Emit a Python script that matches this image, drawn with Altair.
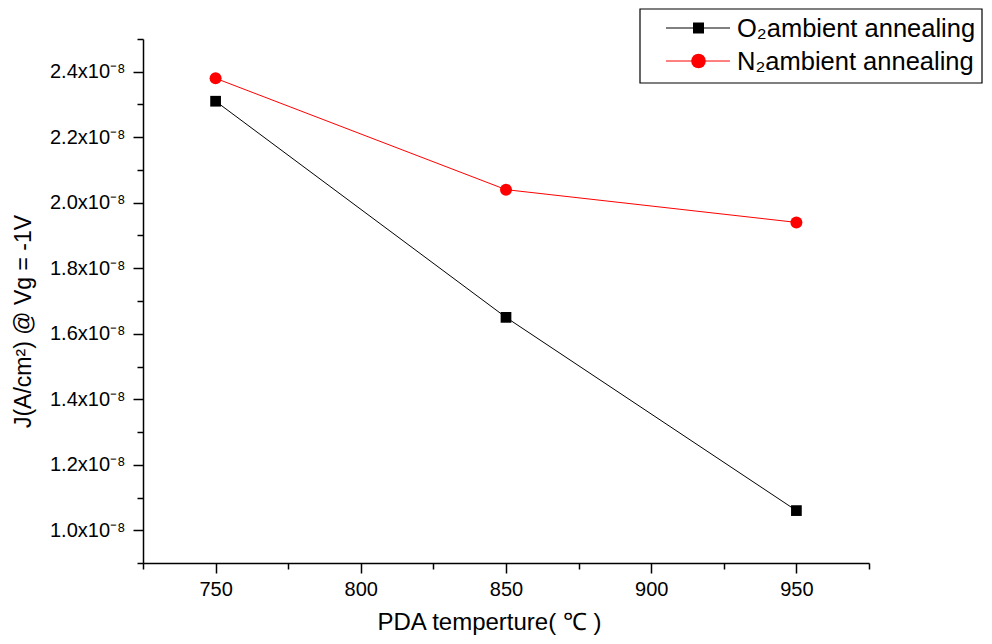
import altair as alt
import pandas as pd

# ---- data ----
temps = [750, 850, 950]
o2_j = [2.31e-8, 1.65e-8, 1.06e-8]
n2_j = [2.38e-8, 2.04e-8, 1.94e-8]
series_labels = ["O\u2082ambient annealing", "N\u2082ambient annealing"]
series_colors = ["#000000", "#ff0000"]
series_shapes = ["square", "circle"]

x_domain = [725, 975]
y_domain = [0.9e-8, 2.5e-8]
x_tick_values = [725, 750, 775, 800, 825, 850, 875, 900, 925, 950, 975]
y_tick_values = [0.9e-8, 1.0e-8, 1.1e-8, 1.2e-8, 1.3e-8, 1.4e-8, 1.5e-8, 1.6e-8,
                 1.7e-8, 1.8e-8, 1.9e-8, 2.0e-8, 2.1e-8, 2.2e-8, 2.3e-8, 2.4e-8, 2.5e-8]

x_title = "PDA temperture( \u2103 )"
y_title = "J(A/cm\u00b2) @ Vg = -1V"

rows = []
for t, v in zip(temps, o2_j):
    rows.append({"temp": t, "J": v, "series": series_labels[0]})
for t, v in zip(temps, n2_j):
    rows.append({"temp": t, "J": v, "series": series_labels[1]})
df = pd.DataFrame(rows)
legend_df = pd.DataFrame({"series": series_labels})

FONT = "Liberation Sans"

x_axis = alt.Axis(
    values=x_tick_values,
    labelExpr="datum.value % 50 === 0 ? datum.label : ''",
    tickSize={"condition": {"test": "datum.value % 50 === 0", "value": 10}, "value": 6},
    grid=False,
    labelFont=FONT, labelFontSize=20, labelColor="black", labelPadding=6,
    labelFlush=False, labelOverlap=False,
    domainColor="black", domainWidth=1.5, tickColor="black", tickWidth=1.5,
    title=x_title, titleFont=FONT, titleFontSize=24, titleFontWeight="normal",
    titleColor="black", titleX=346, titleY=66, titleBaseline="alphabetic",
    titleAlign="center", titleAngle=0,
)

y_axis = alt.Axis(
    values=y_tick_values,
    labelExpr="round(datum.value*1e9) % 2 === 0 ? format(datum.value*1e8, '.1f') + 'x10\u207b\u2078' : ''",
    tickSize={"condition": {"test": "round(datum.value*1e9) % 2 === 0", "value": 10}, "value": 6},
    grid=False,
    labelFont=FONT, labelFontSize=20, labelColor="black", labelPadding=8,
    labelFlush=False, labelOverlap=False,
    domainColor="black", domainWidth=1.5, tickColor="black", tickWidth=1.5,
    title=y_title, titleFont=FONT, titleFontSize=23, titleFontWeight="normal",
    titleColor="black", titleX=-113, titleY=282, titleBaseline="alphabetic",
    titleAlign="center", titleAngle=-90,
)

x_enc = alt.X("temp:Q", scale=alt.Scale(domain=x_domain, nice=False, zero=False), axis=x_axis)
y_enc = alt.Y("J:Q", scale=alt.Scale(domain=y_domain, nice=False, zero=False), axis=y_axis)
color_scale = alt.Scale(domain=series_labels, range=series_colors)

lines = alt.Chart(df).mark_line(strokeWidth=1).encode(
    x=x_enc, y=y_enc,
    color=alt.Color("series:N", scale=color_scale, legend=None),
)

point_layers = []
for lab, shp, sz in zip(series_labels, series_shapes, [115, 144]):
    point_layers.append(
        alt.Chart(df).transform_filter(alt.datum.series == lab)
        .mark_point(shape=shp, filled=True, size=sz, opacity=1)
        .encode(x=x_enc, y=y_enc,
                color=alt.Color("series:N", scale=color_scale, legend=None))
    )

# ---- legend box (drawn as guide, top-right, outside the plot) ----
legend_layers = [
    alt.Chart(legend_df).transform_filter(alt.datum.series == series_labels[0])
    .mark_rect(fill="white", stroke="black", strokeWidth=1.2)
    .encode(x=alt.value(497), x2=alt.value(839), y=alt.value(-30), y2=alt.value(44))
]
row_y = [-11, 22]
legend_marker_sizes = [121, 213]
for lab, col, shp, ry, msz in zip(series_labels, series_colors, series_shapes,
                                  row_y, legend_marker_sizes):
    sub = alt.Chart(legend_df).transform_filter(alt.datum.series == lab)
    legend_layers.append(
        sub.mark_rule(color=col, strokeWidth=1).encode(
            x=alt.value(523), x2=alt.value(587), y=alt.value(ry))
    )
    legend_layers.append(
        sub.mark_point(shape=shp, filled=True, size=msz, opacity=1, color=col).encode(
            x=alt.value(555.5), y=alt.value(ry))
    )
    legend_layers.append(
        sub.mark_text(align="left", baseline="middle", font=FONT, fontSize=25.5,
                      color="black").encode(
            x=alt.value(594), y=alt.value(ry + 1), text="series:N")
    )

chart = alt.layer(lines, *point_layers, *legend_layers).properties(
    width=726, height=524,
    autosize=alt.AutoSizeParams(type="none"),
    padding={"left": 135, "top": 31, "right": 115, "bottom": 73},
    background="white",
).configure_view(stroke=None)

chart.save("out.html", embed_options={"renderer": "svg", "actions": False})
